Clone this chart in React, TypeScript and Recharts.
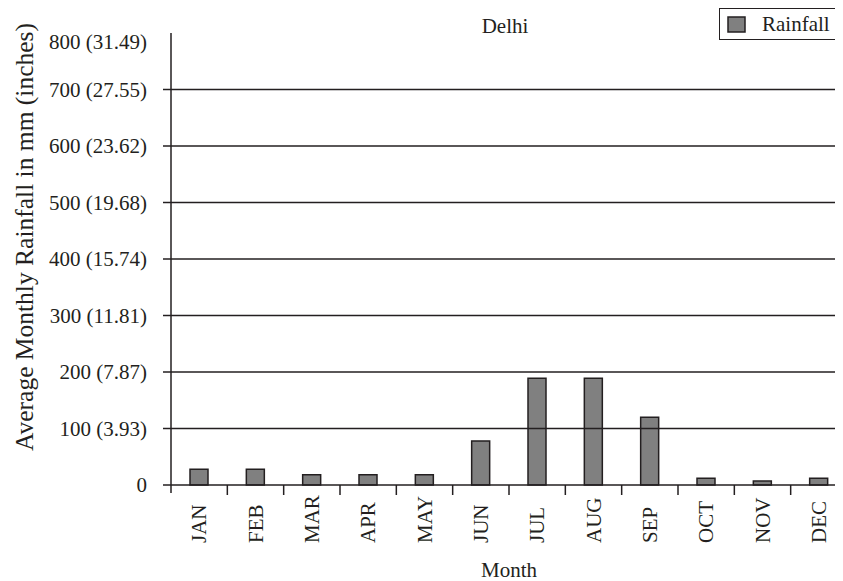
import { BarChart, Bar, XAxis, YAxis, ReferenceLine } from 'recharts'

const months = ['JAN', 'FEB', 'MAR', 'APR', 'MAY', 'JUN', 'JUL', 'AUG', 'SEP', 'OCT', 'NOV', 'DEC']
const rainfall = [28, 28, 18, 18, 18, 78, 189, 189, 120, 12, 7, 12]
const yTicks = [0, 100, 200, 300, 400, 500, 600, 700, 800]
const yTickLabels = ['0', '100 (3.93)', '200 (7.87)', '300 (11.81)', '400 (15.74)', '500 (19.68)', '600 (23.62)', '700 (27.55)', '800 (31.49)']
const gridValues = [100, 200, 300, 400, 500, 600, 700]

const W = 840
const H = 573
const Y_AXIS_W = 163
const MARGIN = { top: 25, right: 1, bottom: 0, left: 0 }
const INK = '#231f20'
const FONT = '"Liberation Serif", "Times New Roman", serif'

const data = months.map((m, i) => ({ month: m, rainfall: rainfall[i] }))
const halfBand = (W - Y_AXIS_W - MARGIN.right) / months.length / 2

function YTick(props: any) {
  const { x, y, payload } = props
  const i = yTicks.indexOf(payload.value)
  const isTop = payload.value === yTicks[yTicks.length - 1]
  return (
    <g>
      {!isTop && <line x1={x + 16} x2={x + 24} y1={y} y2={y} stroke={INK} strokeWidth={1.5} />}
      <text x={x} y={y + (isTop ? 9 : 0)} dy="0.35em" textAnchor="end" fill={INK} fontSize={21} fontFamily={FONT}>
        {yTickLabels[i]}
      </text>
    </g>
  )
}

function XTick(props: any) {
  const { x, y, payload, index } = props
  return (
    <g>
      {index === 0 && <line x1={x - halfBand} x2={x - halfBand} y1={y} y2={y + 8} stroke={INK} strokeWidth={1.5} />}
      <line x1={x + halfBand} x2={x + halfBand} y1={y} y2={y + 10} stroke={INK} strokeWidth={1.5} />
      <text
        x={x + 7}
        y={y + 58}
        transform={`rotate(-90 ${x + 7} ${y + 58})`}
        textAnchor="start"
        fill={INK}
        fontSize={21}
        fontFamily={FONT}
      >
        {payload.value}
      </text>
    </g>
  )
}

function YLabel() {
  return (
    <text x={16} y={229} transform="rotate(-90 16 229)" dy="0.35em" textAnchor="middle" fill={INK} fontSize={25.5} fontFamily={FONT}>
      Average Monthly Rainfall in mm (inches)
    </text>
  )
}

function LegendBox() {
  return (
    <div style={{
      position: 'absolute', left: 711, top: 0, zIndex: 1,
      width: 117, height: 30, border: `1.5px solid ${INK}`, background: '#fff',
      display: 'flex', alignItems: 'center', boxSizing: 'content-box',
      fontFamily: FONT, fontSize: 21, color: INK,
    }}>
      <svg width={42} height={30}>
        <rect x={8} y={8} width={17} height={15} fill="#808080" stroke={INK} strokeWidth={1.5} />
      </svg>
      <span>Rainfall</span>
    </div>
  )
}

export default function App() {
  return (
    <div style={{ position: 'relative', width: W, height: H, fontFamily: FONT }}>
      <style>{'html,body{overflow:hidden}'}</style>
      <div style={{
        position: 'absolute', left: 497, top: 6, transform: 'translateX(-50%)',
        fontFamily: FONT, fontSize: 21, color: INK, lineHeight: '24px', zIndex: 1,
      }}>
        Delhi
      </div>
      <LegendBox />
      <BarChart width={W} height={H} data={data} margin={MARGIN}>
        {gridValues.map((v) => (
          <ReferenceLine key={v} y={v} stroke={INK} strokeWidth={1.5} ifOverflow="extendDomain" />
        ))}
        <XAxis
          dataKey="month"
          height={96}
          tickSize={0}
          tickMargin={0}
          tickLine={false}
          interval={0}
          axisLine={{ stroke: INK, strokeWidth: 1.5 }}
          tick={<XTick />}
          label={{ value: 'Month', position: 'insideBottom', offset: 4, fill: INK, fontSize: 21, fontFamily: FONT }}
        />
        <YAxis
          width={Y_AXIS_W}
          domain={[0, 800]}
          ticks={yTicks}
          interval={0}
          tickSize={8}
          tickMargin={16}
          tickLine={false}
          axisLine={{ stroke: INK, strokeWidth: 1.5 }}
          tick={<YTick />}
          label={<YLabel />}
        />
        <Bar dataKey="rainfall" name="Rainfall" barSize={18} fill="#808080" stroke={INK} strokeWidth={1.5} isAnimationActive={false} />
      </BarChart>
    </div>
  )
}
